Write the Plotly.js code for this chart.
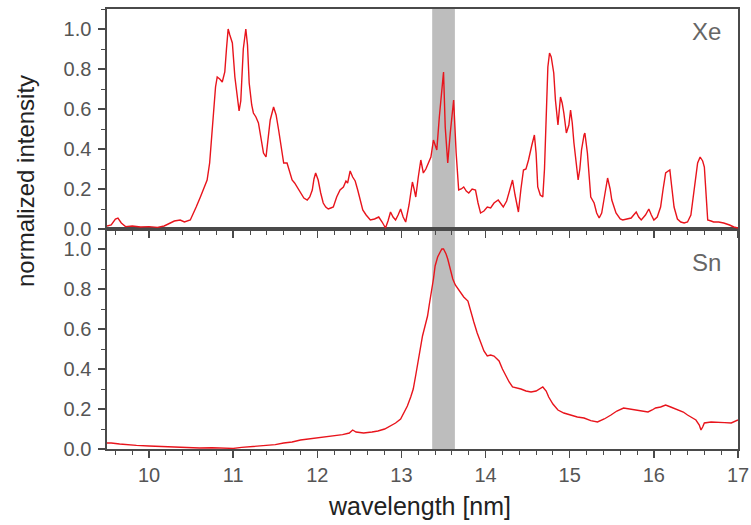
<!DOCTYPE html>
<html>
<head>
<meta charset="utf-8">
<script src="https://cdn.plot.ly/plotly-3.0.1.min.js"></script>
<style>html,body{margin:0;padding:0;background:#fff;}#chart{width:751px;height:525px;}</style>
</head>
<body>
<div id="chart"></div>
<script>
// Xe spectrum (top panel)
const xeWavelength = [9.50,9.55,9.60,9.63,9.67,9.72,9.80,9.90,10.00,10.10,10.18,10.25,10.30,10.37,10.42,10.49,10.52,10.56,10.61,10.65,10.69,10.72,10.75,10.79,10.81,10.84,10.87,10.90,10.92,10.94,10.96,10.99,11.02,11.05,11.07,11.09,11.12,11.15,11.17,11.19,11.22,11.24,11.27,11.30,11.33,11.36,11.39,11.42,11.44,11.48,11.51,11.54,11.57,11.60,11.64,11.67,11.70,11.73,11.76,11.80,11.84,11.88,11.91,11.94,11.96,11.98,12.01,12.04,12.07,12.10,12.13,12.16,12.19,12.23,12.27,12.31,12.34,12.36,12.39,12.42,12.45,12.48,12.51,12.54,12.58,12.63,12.68,12.73,12.77,12.81,12.84,12.87,12.90,12.93,12.96,12.99,13.02,13.05,13.09,13.13,13.15,13.17,13.20,13.23,13.26,13.29,13.32,13.35,13.38,13.42,13.45,13.48,13.50,13.52,13.55,13.58,13.62,13.65,13.68,13.71,13.74,13.77,13.80,13.84,13.88,13.91,13.94,13.98,14.02,14.06,14.10,14.15,14.18,14.21,14.25,14.29,14.32,14.35,14.39,14.42,14.45,14.48,14.51,14.55,14.58,14.60,14.62,14.65,14.68,14.70,14.72,14.74,14.76,14.78,14.81,14.83,14.86,14.89,14.91,14.93,14.96,14.99,15.01,15.03,15.05,15.08,15.10,15.12,15.14,15.17,15.18,15.21,15.23,15.25,15.29,15.32,15.35,15.38,15.40,15.43,15.45,15.48,15.50,15.55,15.60,15.63,15.68,15.73,15.76,15.79,15.82,15.85,15.90,15.94,15.97,16.00,16.04,16.08,16.11,16.14,16.17,16.19,16.21,16.24,16.28,16.32,16.36,16.40,16.44,16.48,16.52,16.55,16.58,16.60,16.62,16.64,16.68,16.71,16.77,16.83,16.90,16.95,17.00];
const xeIntensity = [0.015,0.02,0.05,0.055,0.03,0.012,0.015,0.01,0.012,0.008,0.015,0.03,0.04,0.045,0.035,0.045,0.07,0.11,0.16,0.2,0.245,0.33,0.48,0.71,0.76,0.75,0.735,0.785,0.9,1.0,0.97,0.93,0.76,0.66,0.59,0.64,0.9,1.0,0.92,0.73,0.62,0.58,0.56,0.53,0.46,0.38,0.36,0.46,0.545,0.61,0.57,0.495,0.42,0.33,0.33,0.29,0.245,0.23,0.21,0.18,0.155,0.145,0.16,0.195,0.25,0.28,0.245,0.18,0.13,0.11,0.1,0.105,0.11,0.16,0.195,0.21,0.24,0.23,0.29,0.26,0.24,0.195,0.14,0.095,0.07,0.045,0.05,0.06,0.035,0.005,0.04,0.085,0.06,0.045,0.07,0.1,0.06,0.035,0.12,0.235,0.2,0.16,0.26,0.345,0.28,0.3,0.33,0.36,0.445,0.395,0.56,0.7,0.785,0.51,0.33,0.48,0.645,0.38,0.195,0.2,0.21,0.19,0.18,0.2,0.195,0.13,0.08,0.09,0.11,0.105,0.13,0.145,0.13,0.11,0.14,0.2,0.245,0.17,0.085,0.2,0.295,0.3,0.345,0.42,0.47,0.38,0.21,0.17,0.16,0.3,0.6,0.81,0.88,0.86,0.78,0.645,0.52,0.66,0.63,0.58,0.48,0.52,0.595,0.53,0.43,0.3,0.245,0.3,0.395,0.47,0.48,0.38,0.25,0.16,0.13,0.08,0.055,0.08,0.13,0.22,0.255,0.2,0.145,0.08,0.05,0.045,0.05,0.055,0.07,0.085,0.06,0.045,0.07,0.1,0.07,0.045,0.06,0.11,0.2,0.28,0.29,0.295,0.22,0.11,0.05,0.035,0.03,0.035,0.07,0.21,0.33,0.36,0.34,0.31,0.15,0.045,0.04,0.035,0.035,0.03,0.02,0.01,0.005];

// Sn spectrum (bottom panel)
const snWavelength = [9.50,9.55,9.65,9.75,9.85,10.00,10.15,10.30,10.45,10.60,10.75,10.90,11.00,11.10,11.20,11.30,11.40,11.50,11.60,11.70,11.80,11.90,12.00,12.10,12.20,12.30,12.38,12.42,12.46,12.55,12.65,12.72,12.80,12.87,12.93,12.99,13.03,13.07,13.11,13.14,13.17,13.20,13.23,13.25,13.28,13.31,13.33,13.35,13.38,13.40,13.43,13.46,13.48,13.50,13.53,13.55,13.58,13.61,13.64,13.67,13.71,13.74,13.79,13.82,13.86,13.90,13.94,13.98,14.02,14.06,14.10,14.13,14.16,14.20,14.24,14.28,14.32,14.38,14.42,14.48,14.54,14.60,14.65,14.68,14.72,14.75,14.80,14.86,14.93,15.01,15.09,15.17,15.25,15.33,15.41,15.49,15.56,15.64,15.72,15.81,15.87,15.93,15.98,16.02,16.08,16.14,16.20,16.29,16.35,16.40,16.45,16.50,16.54,16.56,16.58,16.60,16.68,16.76,16.84,16.92,16.97,17.00];
const snIntensity = [0.03,0.03,0.025,0.02,0.018,0.015,0.012,0.01,0.008,0.005,0.006,0.004,0.003,0.008,0.012,0.015,0.02,0.022,0.03,0.035,0.045,0.05,0.055,0.06,0.065,0.072,0.08,0.095,0.085,0.08,0.085,0.09,0.1,0.115,0.13,0.15,0.18,0.215,0.26,0.3,0.37,0.45,0.52,0.565,0.615,0.665,0.72,0.765,0.85,0.915,0.96,0.985,1.0,1.0,0.975,0.95,0.9,0.85,0.82,0.8,0.775,0.76,0.74,0.69,0.635,0.58,0.535,0.49,0.465,0.47,0.465,0.45,0.44,0.4,0.365,0.335,0.31,0.305,0.3,0.29,0.285,0.29,0.305,0.31,0.29,0.26,0.225,0.195,0.18,0.17,0.16,0.155,0.142,0.135,0.15,0.17,0.19,0.205,0.2,0.195,0.19,0.185,0.195,0.205,0.21,0.22,0.21,0.195,0.185,0.17,0.158,0.145,0.12,0.095,0.11,0.13,0.135,0.135,0.132,0.13,0.138,0.145];

// Highlighted band (in-band 13.5 nm, 2% bandwidth)
const bandRange = [13.365, 13.635];
const panelLabels = ["Xe", "Sn"];
const xTitle = "wavelength [nm]";
const yTitle = "normalized intensity";

const FONT = "Liberation Sans, Arial, Helvetica, sans-serif";
const LINE = "#e8141c";
const AX = "#4a4a4a";

const xeTrace = {x: xeWavelength, y: xeIntensity, xaxis: 'x2', yaxis: 'y2', type: 'scatter', mode: 'lines',
  line: {color: LINE, width: 1.4}, hoverinfo: 'skip'};
const snTrace = {x: snWavelength, y: snIntensity, xaxis: 'x', yaxis: 'y', type: 'scatter', mode: 'lines',
  line: {color: LINE, width: 1.4}, hoverinfo: 'skip'};

function xAxis(extra) {
  return Object.assign({
    range: [9.5, 17], tick0: 10, dtick: 1, ticks: 'outside', ticklen: 7, tickwidth: 1.5, tickcolor: AX,
    showline: true, linecolor: AX, linewidth: 1.6, mirror: true, showgrid: false, zeroline: false,
    minor: {dtick: 0.2, tick0: 10, ticks: 'outside', ticklen: 4, tickwidth: 1, tickcolor: AX, showgrid: false},
    tickfont: {family: FONT, size: 20, color: '#555'}
  }, extra);
}
function yAxis(extra) {
  return Object.assign({
    range: [0, 1.1], tick0: 0, dtick: 0.2, tickformat: '.1f', ticks: 'outside', ticklen: 7, tickwidth: 1.5, tickcolor: AX,
    showline: true, linecolor: AX, linewidth: 1.6, mirror: true, showgrid: false, zeroline: false,
    minor: {dtick: 0.1, tick0: 0, ticks: 'outside', ticklen: 4, tickwidth: 1, tickcolor: AX, showgrid: false},
    tickfont: {family: FONT, size: 20, color: '#555'}, ticklabelstandoff: 3
  }, extra);
}

const layout = {
  width: 751, height: 525,
  margin: {l: 107, r: 13, t: 9, b: 76},
  paper_bgcolor: '#ffffff', plot_bgcolor: '#ffffff',
  showlegend: false,
  xaxis: xAxis({anchor: 'y', domain: [0, 1]}),
  xaxis2: xAxis({anchor: 'y2', domain: [0, 1], matches: 'x', showticklabels: false}),
  yaxis: yAxis({anchor: 'x', domain: [0, 0.5]}),
  yaxis2: yAxis({anchor: 'x2', domain: [0.5, 1]}),
  shapes: [{type: 'rect', xref: 'x', yref: 'paper', x0: bandRange[0], x1: bandRange[1], y0: 0, y1: 1,
    fillcolor: '#bdbdbd', line: {width: 0}, layer: 'below'}],
  annotations: [
    {text: panelLabels[0], xref: 'paper', yref: 'paper', x: 0.976, y: 0.948, xanchor: 'right', yanchor: 'middle',
      showarrow: false, font: {family: FONT, size: 24, color: '#666'}},
    {text: panelLabels[1], xref: 'paper', yref: 'paper', x: 0.976, y: 0.425, xanchor: 'right', yanchor: 'middle',
      showarrow: false, font: {family: FONT, size: 24, color: '#666'}},
    {text: xTitle, xref: 'paper', yref: 'paper', x: 0.496, y: -0.13, xanchor: 'center', yanchor: 'middle',
      showarrow: false, font: {family: FONT, size: 25, color: '#222'}},
    {text: yTitle, xref: 'paper', yref: 'paper', x: -0.13, y: 0.609, xanchor: 'center', yanchor: 'middle',
      textangle: -90, showarrow: false, font: {family: FONT, size: 24, color: '#222'}}
  ]
};

Plotly.newPlot('chart', [xeTrace, snTrace], layout, {staticPlot: true, displayModeBar: false});
</script>
</body>
</html>
